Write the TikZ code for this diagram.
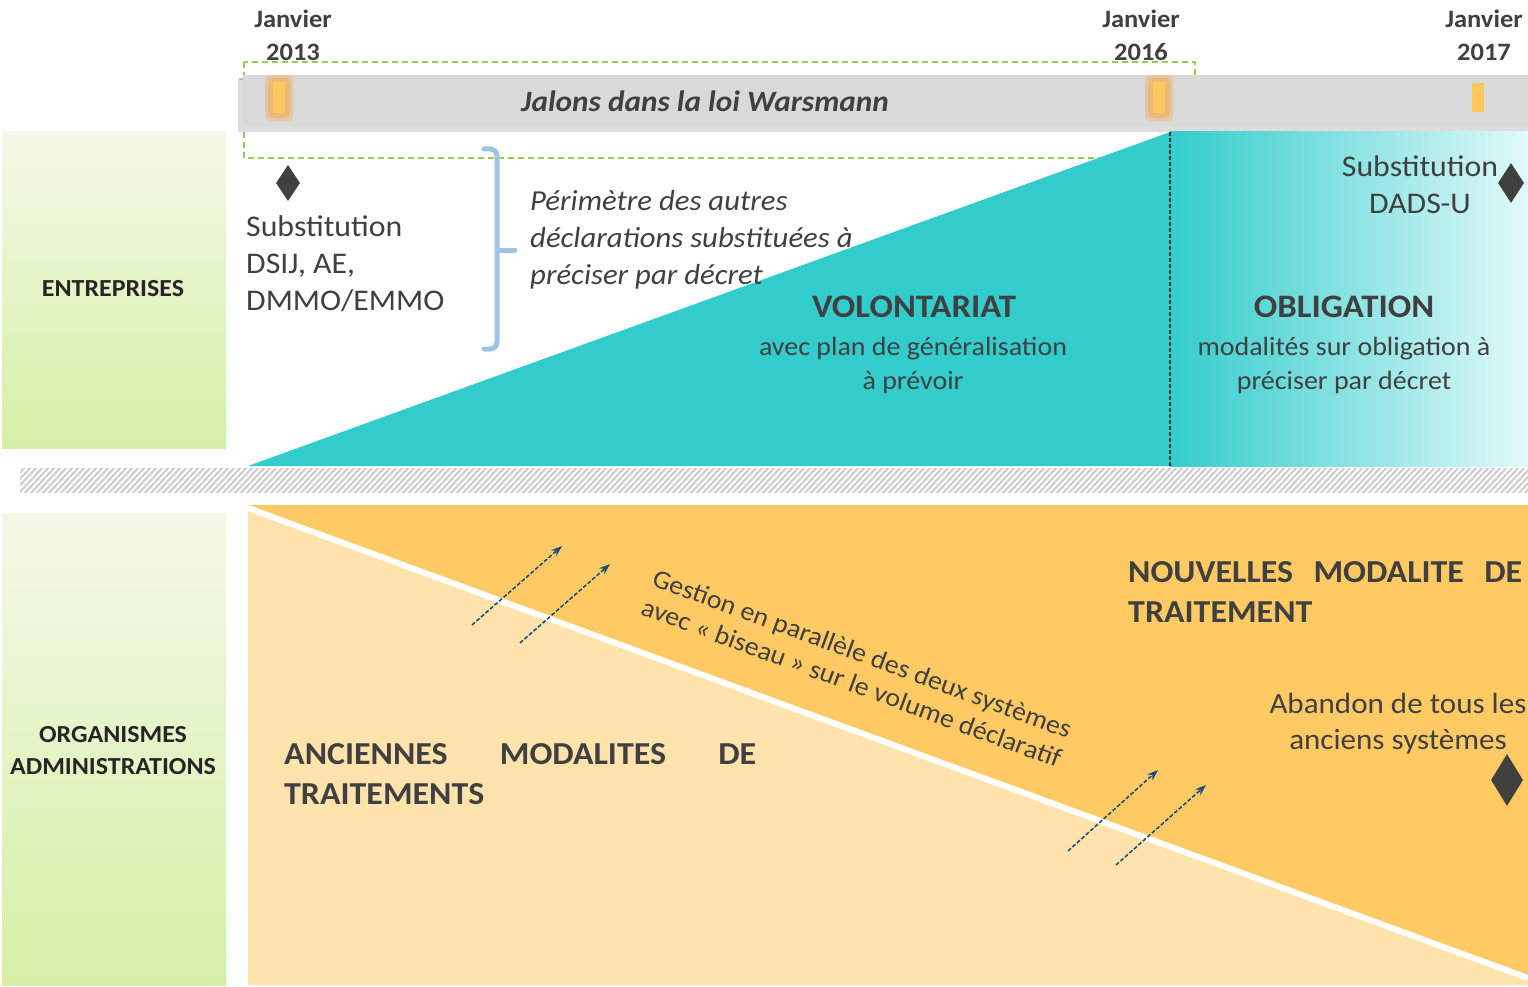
\documentclass[tikz,border=0pt]{standalone}
\usepackage{fontspec}
\setmainfont{Carlito}[FakeStretch=1.06]
\usetikzlibrary{shapes.geometric,arrows.meta}
\definecolor{txt}{HTML}{404040}
\definecolor{teal1}{HTML}{33CCCC}
\definecolor{tealmid}{HTML}{A8ECEC}
\definecolor{teallight}{HTML}{E2F9F9}
\definecolor{orgdark}{HTML}{FFCA64}
\definecolor{orglight}{HTML}{FFE3AD}
\definecolor{greentop}{HTML}{F3F9E8}
\definecolor{greenbot}{HTML}{D6EFA4}
\definecolor{barfill}{HTML}{D9D9D9}
\definecolor{barshadow}{HTML}{8C8C8C}
\definecolor{markercol}{HTML}{FFC85A}
\definecolor{glow}{HTML}{F5A94A}
\definecolor{dashgreen}{HTML}{92D050}
\definecolor{bracecol}{HTML}{9DC3E6}
\definecolor{arrowcol}{HTML}{1F4E79}
\definecolor{hatchcol}{HTML}{CFCFCF}
\definecolor{diamcol}{HTML}{404040}
\newcommand{\myfs}[2]{\fontsize{#1}{#2}\selectfont}
\begin{document}
\begin{tikzpicture}[x=1pt,y=-1pt,
  lbl/.style={inner sep=0pt, text=txt},
  datelbl/.style={lbl, align=center, font=\myfs{25}{33}\bfseries},
  sidelbl/.style={inner sep=0pt, text=black!85, align=center, font=\myfs{24.5}{32}\bfseries},
  bigbold/.style={inner sep=0pt, text=txt, font=\myfs{32}{40}\bfseries},
  milestone/.style={diamond, fill=diamcol, inner sep=0pt, draw=none},
  flow/.style={arrowcol, line width=1.6pt, dash pattern=on 4pt off 2pt, -{Stealth[length=11pt,width=8pt]}},
  markbox/.style={fill=markercol, draw=none},
  glowbox/.style={fill=glow, draw=none, rounded corners=5pt}
]
\useasboundingbox (0,0) rectangle (1528,987);
\fill[white] (0,0) rectangle (1528,987);

% side boxes
\shade[top color=greentop, bottom color=greenbot] (2,132) rectangle (226,448);
\shade[top color=greentop, bottom color=greenbot] (2,513) rectangle (226,985);
\node[sidelbl] (entr) at (113,289) {ENTREPRISES};
\node[sidelbl] (orga) at (113,751) {ORGANISMES\\ADMINISTRATIONS};

% hatch band
\begin{scope}
\clip (20,468) rectangle (1528,492);
\foreach \x in {0,6,...,1560} {
  \draw[hatchcol, line width=2.2pt] (\x,494) -- (\x+26,466);
}
\end{scope}

% green dashed frame
\draw[dashgreen, line width=1.3pt, dash pattern=on 6pt off 4pt] (244,62) rectangle (1195,158);

% gray bar with shadow
\fill[barshadow!60] (239,78) rectangle (1528,130);
\fill[barshadow!30] (238,80) rectangle (1528,132);
\fill[barfill] (243,75) rectangle (1528,126);
\node[inner sep=0pt, text=txt, font=\myfs{29.5}{34}\itshape\bfseries] (jalons) at (705,101) {Jalons dans la loi Warsmann};

% markers
\fill[glowbox, opacity=0.35] (265,75) rectangle (293,121);
\fill[glowbox, opacity=0.45] (268,78) rectangle (290,118);
\fill[markbox] (273,82) rectangle (285,113);
\fill[glowbox, opacity=0.35] (1145,75) rectangle (1173,121);
\fill[glowbox, opacity=0.45] (1148,78) rectangle (1170,118);
\fill[markbox] (1153,82) rectangle (1165,113);
\fill[markbox] (1472,83) rectangle (1484,112);

% dates
\node[datelbl] (j13) at (293,35) {Janvier\\2013};
\node[datelbl] (j16) at (1141,35) {Janvier\\2016};
\node[datelbl] (j17) at (1484,35) {Janvier\\2017};

% teal shapes
\shade[left color=teal1, middle color=tealmid, right color=teallight] (1170,132) rectangle (1528,466);
\fill[teal1] (248,466) -- (1170,132) -- (1170,466) -- cycle;
\draw[black!80, line width=1.2pt, dash pattern=on 4pt off 2pt] (1170,132) -- (1170,468);

% upper left texts
\node[milestone, minimum width=24pt, minimum height=36pt] (d1) at (288,183) {};
\node[lbl, anchor=west, align=left, font=\myfs{30}{37}] (subst1) at (246,264) {Substitution\\DSIJ, AE,\\DMMO/EMMO};
\draw[bracecol, line width=5pt, rounded corners=7pt, line cap=round] (484,149) -- (497,149) -- (497,349) -- (484,349);
\draw[bracecol, line width=5pt, line cap=round] (497,250) -- (515,250);
\node[lbl, anchor=west, align=left, font=\myfs{29}{37}\itshape] (perim) at (530,240) {Périmètre des autres\\déclarations substituées à\\préciser par décret};

\node[lbl, font=\myfs{32.8}{38}\bfseries] (vol) at (914,307) {VOLONTARIAT};
\node[lbl, align=center, font=\myfs{26.4}{34}] (volsub) at (913,365) {avec plan de généralisation\\à prévoir};
\node[lbl, font=\myfs{32.8}{38}\bfseries] (obl) at (1344,307) {OBLIGATION};
\node[lbl, align=center, font=\myfs{26.4}{34}] (oblsub) at (1344,365) {modalités sur obligation à\\préciser par décret};
\node[lbl, align=center, font=\myfs{30}{37}] (subst2) at (1420,185) {Substitution\\DADS-U};
\node[milestone, minimum width=26pt, minimum height=40pt] (d2) at (1511,183) {};

% orange area
\fill[orglight] (248,505) rectangle (1528,985);
\fill[orgdark] (248,505) -- (1528,505) -- (1528,978) -- cycle;
\draw[white, line width=6pt] (248,508) -- (1528,978);

\node[bigbold, anchor=base west] (nouv1) at (1128,582) {\makebox[394pt][s]{NOUVELLES MODALITE DE}};
\node[bigbold, anchor=base west] (nouv2) at (1128,622) {TRAITEMENT};
\node[bigbold, anchor=base west] (anc1) at (284,764) {\makebox[472pt][s]{ANCIENNES MODALITES DE}};
\node[bigbold, anchor=base west] (anc2) at (284,804) {TRAITEMENTS};
\node[lbl, align=center, font=\myfs{29.3}{36}] (aband) at (1398,724) {Abandon de tous les\\anciens systèmes};
\node[milestone, minimum width=32pt, minimum height=52pt] (d3) at (1507,780) {};
\node[lbl, align=center, rotate=-20.2, font=\myfs{26.4}{31}] (gest) at (857,668) {Gestion en parallèle des deux systèmes\\avec « biseau » sur le volume déclaratif};

% arrows
\coordinate (a1s) at (472,625); \coordinate (a1e) at (562,546);
\coordinate (a2s) at (520,643); \coordinate (a2e) at (610,564);
\coordinate (a3s) at (1068,851); \coordinate (a3e) at (1158,770);
\coordinate (a4s) at (1116,865); \coordinate (a4e) at (1206,785);
\draw[flow] (a1s) -- (a1e);
\draw[flow] (a2s) -- (a2e);
\draw[flow] (a3s) -- (a3e);
\draw[flow] (a4s) -- (a4e);
\end{tikzpicture}
\end{document}
